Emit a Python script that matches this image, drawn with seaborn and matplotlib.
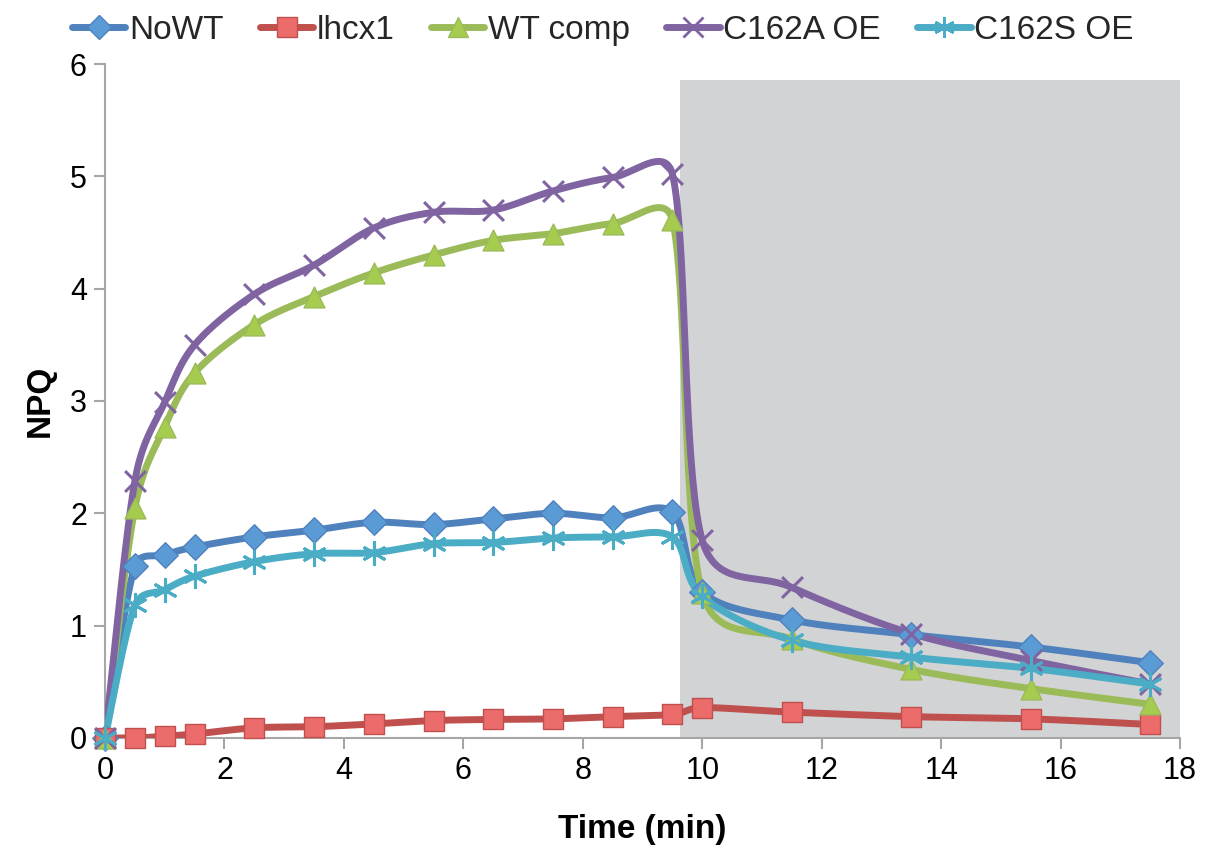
import numpy as np
import pandas as pd
import matplotlib
matplotlib.use("Agg")
import matplotlib.pyplot as plt
import seaborn as sns

# ---- data ----
time_min = [0, 0.5, 1, 1.5, 2.5, 3.5, 4.5, 5.5, 6.5, 7.5, 8.5, 9.5, 10, 11.5, 13.5, 15.5, 17.5]
nowt = [0, 1.53, 1.63, 1.70, 1.79, 1.85, 1.92, 1.90, 1.95, 2.00, 1.96, 2.01, 1.30, 1.05, 0.92, 0.81, 0.67]
lhcx1 = [0, 0.0, 0.015, 0.035, 0.09, 0.10, 0.125, 0.155, 0.165, 0.17, 0.19, 0.21, 0.27, 0.23, 0.19, 0.17, 0.12]
wt_comp = [0, 2.05, 2.77, 3.25, 3.68, 3.93, 4.14, 4.30, 4.43, 4.49, 4.58, 4.61, 1.29, 0.88, 0.61, 0.44, 0.30]
c162a_oe = [0, 2.29, 2.99, 3.50, 3.95, 4.21, 4.54, 4.68, 4.70, 4.87, 4.99, 5.02, 1.76, 1.34, 0.93, 0.69, 0.48]
c162s_oe = [0, 1.18, 1.32, 1.44, 1.57, 1.64, 1.65, 1.73, 1.74, 1.78, 1.79, 1.79, 1.26, 0.87, 0.72, 0.62, 0.48]
series_names = ["NoWT", "lhcx1", "WT comp", "C162A OE", "C162S OE"]
series_values = [nowt, lhcx1, wt_comp, c162a_oe, c162s_oe]
dark_start, dark_end, dark_top = 9.63, 18, 5.86

colors = ["#4F81BD", "#C0504D", "#9BBB59", "#8064A2", "#4BACC6"]
mk_face = ["#5B9BD5", "#EC6B6B", "#A6CC4F", "#8064A2", "#4BACC6"]
markers = ["D", "s", "^", "x", (6, 2, 0)]
msizes = [13, 15, 15, 15, 16]

SX, SY = 59.7, 112.3  # px per data unit, used to mimic Excel's smoothing


def smooth(x, y, n=40):
    """Excel-style smoothed line (Bezier, tension 1/6, arms capped at half segment)."""
    P = np.column_stack([np.asarray(x, float) * SX, np.asarray(y, float) * SY])
    out = []
    for i in range(len(P) - 1):
        p0 = P[i - 1] if i > 0 else P[i]
        p1 = P[i]; p2 = P[i + 1]
        p3 = P[i + 2] if i + 2 < len(P) else P[i + 1]
        d12 = np.hypot(*(p2 - p1))
        a1 = (p2 - p0) / 6.0
        a2 = (p3 - p1) / 6.0
        for a in (a1, a2):
            la = np.hypot(*a)
            if la > d12 / 2 and la > 0:
                a *= (d12 / 2) / la
        c1 = p1 + a1
        c2 = p2 - a2
        t = np.linspace(0, 1, n)[:, None]
        seg = ((1 - t) ** 3) * p1 + 3 * ((1 - t) ** 2) * t * c1 + 3 * (1 - t) * t ** 2 * c2 + t ** 3 * p2
        out.append(seg if i == 0 else seg[1:])
    Q = np.vstack(out)
    return Q[:, 0] / SX, Q[:, 1] / SY


sns.set_style("white")
plt.rcParams['font.family'] = ['Liberation Sans', 'DejaVu Sans']

fig = plt.figure(figsize=(12.13, 8.58), dpi=100)
ax = fig.add_axes([0.0866, 0.1399, 0.8862, 0.7855])

ax.axvspan(dark_start, dark_end, ymin=0, ymax=dark_top / 6, color="#D2D3D5", zorder=0, lw=0)

handles = []
for name, vals, c, fc, m, ms in zip(series_names, series_values, colors, mk_face, markers, msizes):
    cx, cy = smooth(time_min, vals)
    cdf = pd.DataFrame({"t": cx, "v": cy})
    sns.lineplot(data=cdf, x="t", y="v", sort=False, estimator=None, color=c, lw=5,
                 ax=ax, zorder=3, solid_capstyle="round")
    pdf = pd.DataFrame({"t": time_min, "v": vals})
    if m in ("x", (6, 2, 0)):
        sns.scatterplot(data=pdf, x="t", y="v", marker=m, s=ms ** 2, color=c, linewidth=2.2,
                        ax=ax, zorder=4, clip_on=False)
    else:
        sns.scatterplot(data=pdf, x="t", y="v", marker=m, s=ms ** 2, color=fc, edgecolor=c,
                        linewidth=1, ax=ax, zorder=4, clip_on=False)
    h, = ax.plot([], [], color=c, lw=5, marker=m, markersize=ms * 0.95,
                 markerfacecolor=fc, markeredgecolor=c,
                 markeredgewidth=2 if m in ("x", (6, 2, 0)) else 1)
    handles.append(h)

ax.set_xlim(0, 18)
ax.set_ylim(0, 6)
ax.set_xticks(range(0, 19, 2))
ax.set_yticks(range(0, 7))
for s in ["top", "right"]:
    ax.spines[s].set_visible(False)
for s in ["left", "bottom"]:
    ax.spines[s].set_color("#A6A6A6")
    ax.spines[s].set_linewidth(1.5)
ax.tick_params(axis="both", direction="out", length=8, width=1.5, color="#A6A6A6",
               labelsize=22, labelcolor="black", pad=5, left=True, bottom=True)
ax.set_xlabel("Time (min)", fontsize=24, fontweight="bold", labelpad=20, color="black")
ax.set_ylabel("NPQ", fontsize=24, fontweight="bold", labelpad=10, color="black")

fig.legend(handles, series_names, loc="upper center", bbox_to_anchor=(0.497, 1.018), ncol=5,
           frameon=False, fontsize=24, handlelength=1.6, handletextpad=0.1, columnspacing=1.1)

fig.savefig("out.png", dpi=100)
